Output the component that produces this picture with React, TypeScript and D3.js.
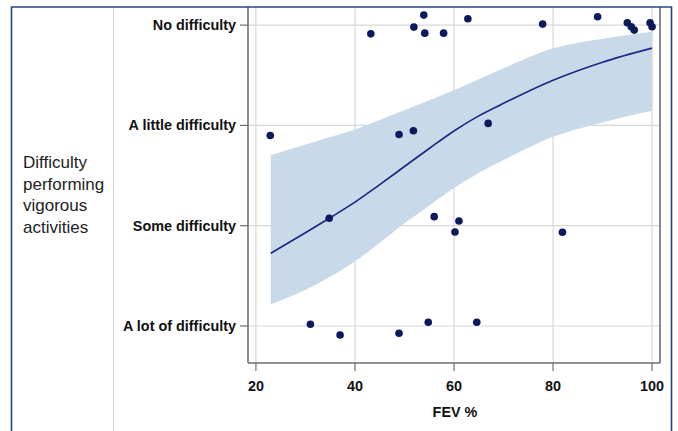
import React from "react";
import * as d3 from "d3";

// Ordinal response categories (level 1..4)
const categories = ["A lot of difficulty", "Some difficulty", "A little difficulty", "No difficulty"];
const xTicks = [20, 40, 60, 80, 100];

// Observed (jittered) points
const pointFev = [
  43.2, 53.9, 51.9, 54.1, 57.9, 62.8, 77.9, 89.0, 95.0, 95.8, 96.4, 99.6, 100.0,
  22.9, 48.9, 51.8, 66.9,
  34.8, 56.0, 61.0, 60.2, 81.9,
  31.0, 37.0, 48.9, 54.8, 64.6,
];
const pointLevel = [
  4, 4, 4, 4, 4, 4, 4, 4, 4, 4, 4, 4, 4,
  3, 3, 3, 3,
  2, 2, 2, 2, 2,
  1, 1, 1, 1, 1,
];
const pointJitter = [
  -0.087, 0.1, -0.02, -0.08, -0.08, 0.063, 0.01, 0.083, 0.023, -0.017, -0.05, 0.023, -0.017,
  -0.1, -0.09, -0.054, 0.02,
  0.074, 0.09, 0.047, -0.063, -0.066,
  0.017, -0.09, -0.073, 0.037, 0.037,
];

// Fitted curve and confidence band
const curveFev = [23, 30, 35, 40, 45, 50, 55, 60, 65, 70, 80, 90, 100];
const curveFit = [1.725, 1.93, 2.08, 2.235, 2.41, 2.59, 2.77, 2.945, 3.095, 3.22, 3.45, 3.63, 3.77];
const bandUpper = [2.704, 2.81, 2.885, 2.96, 3.055, 3.15, 3.25, 3.35, 3.46, 3.57, 3.77, 3.865, 3.935];
const bandLower = [1.216, 1.36, 1.49, 1.643, 1.83, 2.024, 2.2, 2.375, 2.525, 2.655, 2.887, 3.03, 3.146];

const yTitleLines = ["Difficulty", "performing", "vigorous", "activities"];
const xTitle = "FEV %";

export default function App() {
  const W = 678, H = 431;
  const left = 248, right = 660, bottom = 363;
  const x = d3.scaleLinear().domain([18.4, 101.6]).range([left, right]);
  const y = d3.scaleLinear().domain([0.631, 4.37]).range([bottom, -12]);

  const band = d3
    .area<number>()
    .x((_, i) => x(curveFev[i]))
    .y0((_, i) => y(bandLower[i]))
    .y1((_, i) => y(bandUpper[i]))
    .curve(d3.curveCatmullRom.alpha(0.5));
  const line = d3
    .line<number>()
    .x((_, i) => x(curveFev[i]))
    .y((d) => y(d))
    .curve(d3.curveCatmullRom.alpha(0.5));

  const font = "'Liberation Sans', Arial, Helvetica, sans-serif";
  const frameTop = 7;
  const axisColor = "#6e6e6e";

  return (
    <div style={{ position: "absolute", left: 0, top: 0 }}>
      <svg width={W} height={H} style={{ display: "block", background: "#fff" }}>
        <defs>
          <clipPath id="clipPlot">
            <rect x={left} y={frameTop} width={right - left} height={bottom - frameTop} />
          </clipPath>
        </defs>
        {/* divider */}
        <line x1={113.5} x2={113.5} y1={frameTop} y2={H} stroke="#d6d6d6" strokeWidth={1} />
        {/* gridlines */}
        <g clipPath="url(#clipPlot)">
          {xTicks.map((t) => (
            <line key={"gx" + t} x1={x(t)} x2={x(t)} y1={frameTop} y2={bottom} stroke="#d8d8d8" strokeWidth={1.2} />
          ))}
          {categories.map((c, i) => (
            <line key={"gy" + c} x1={left} x2={right} y1={y(i + 1)} y2={y(i + 1)} stroke="#d8d8d8" strokeWidth={1.2} />
          ))}
          <path d={band(curveFev) || ""} fill="#c8d9ea" />
          <path d={line(curveFit) || ""} fill="none" stroke="#1b2a80" strokeWidth={1.7} />
          {pointFev.map((f, i) => (
            <circle key={"p" + i} cx={x(f)} cy={y(pointLevel[i] + pointJitter[i])} r={3.8} fill="#0b1a5c" />
          ))}
        </g>
        {/* plot frame */}
        <line x1={left} x2={left} y1={frameTop} y2={bottom} stroke={axisColor} strokeWidth={1.6} />
        <line x1={right} x2={right} y1={frameTop} y2={bottom} stroke={axisColor} strokeWidth={1.6} />
        <line x1={left} x2={right} y1={bottom} y2={bottom} stroke={axisColor} strokeWidth={1.6} />
        {/* y ticks */}
        {categories.map((c, i) => (
          <g key={"yt" + c}>
            <line x1={left - 8} x2={left} y1={y(i + 1)} y2={y(i + 1)} stroke={axisColor} strokeWidth={1.2} />
            <text x={left - 12} y={y(i + 1) + 5} textAnchor="end" fontFamily={font} fontWeight="bold" fontSize={14.4} fill="#111">
              {c}
            </text>
          </g>
        ))}
        {/* x ticks */}
        {xTicks.map((t) => (
          <g key={"xt" + t}>
            <line x1={x(t)} x2={x(t)} y1={bottom} y2={bottom + 8} stroke={axisColor} strokeWidth={1.2} />
            <text x={x(t)} y={391} textAnchor="middle" fontFamily={font} fontWeight="bold" fontSize={14.4} fill="#111">
              {t}
            </text>
          </g>
        ))}
        <text x={(left + right) / 2 + 1} y={417} textAnchor="middle" fontFamily={font} fontWeight="bold" fontSize={14.4} fill="#111">
          {xTitle}
        </text>
        {yTitleLines.map((l, i) => (
          <text key={l} x={23} y={168 + i * 21.5} fontFamily={font} fontSize={17} fill="#222">
            {l}
          </text>
        ))}
        {/* outer frame */}
        <path d={`M11.5,${H} V${frameTop} H671.5 V${H}`} fill="none" stroke="#23468f" strokeWidth={1.6} />
      </svg>
    </div>
  );
}
